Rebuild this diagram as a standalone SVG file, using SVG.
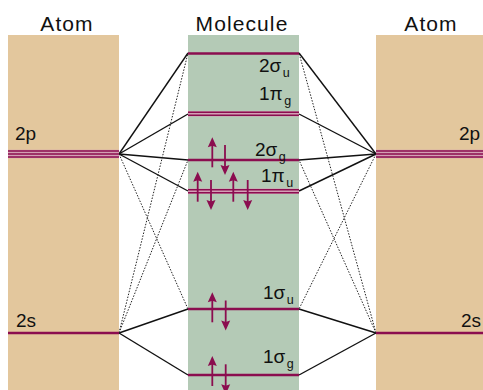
<svg xmlns="http://www.w3.org/2000/svg" xmlns:xlink="http://www.w3.org/1999/xlink" width="483" height="390" viewBox="0 0 483 390">
<style>
.title{font-family:"Liberation Sans",Arial,sans-serif;font-size:21px;letter-spacing:1.1px;fill:#111;text-anchor:middle}
.lab{font-family:"Liberation Sans",Arial,sans-serif;font-size:19px;fill:#111}
.sub{font-size:12.5px}
.atom{fill:#e3c79d}
.mol{fill:#b4cab6}
.lvl{stroke:#8b0d4f;stroke-width:2.6;fill:none}
.thin{stroke:#8b0d4f;stroke-width:1.6;fill:none}
.band{stroke:#d3a0b4;fill:none}
.solid{stroke:#111;stroke-width:1.4;fill:none}
.dot{stroke:#222;stroke-width:1;stroke-dasharray:1.5 1.5;fill:none}
.el{stroke:#8b0d4f;stroke-width:1.8;fill:none}
.head{fill:#8b0d4f}
</style>
<defs>
<g id="up"><line class="el" x1="0" y1="7" x2="0" y2="30"/><path class="head" d="M0,0 L4.5,10 L0,8.5 L-4.5,10 Z"/></g>
<g id="down"><line class="el" x1="0" y1="0" x2="0" y2="23"/><path class="head" d="M0,30 L4.5,20 L0,21.5 L-4.5,20 Z"/></g>
</defs>
<rect class="atom" x="8" y="35" width="111" height="355"/>
<rect class="mol" x="188" y="35" width="111" height="355"/>
<rect class="atom" x="376" y="35" width="107" height="355"/>
<text class="title" x="67" y="30.5">Atom</text>
<text class="title" x="242" y="30.5">Molecule</text>
<text class="title" x="431" y="30.5">Atom</text>
<g id="connectors">
<line class="solid" x1="119" y1="154" x2="188" y2="53"/>
<line class="solid" x1="119" y1="154" x2="188" y2="114"/>
<line class="solid" x1="119" y1="154" x2="188" y2="160"/>
<line class="solid" x1="119" y1="154" x2="188" y2="191"/>
<line class="solid" x1="119" y1="333" x2="188" y2="309"/>
<line class="solid" x1="119" y1="333" x2="188" y2="375"/>
<line class="dot" x1="119" y1="333" x2="188" y2="53"/>
<line class="dot" x1="119" y1="333" x2="188" y2="160"/>
<line class="dot" x1="119" y1="154" x2="188" y2="309"/>
<line class="solid" x1="376" y1="154" x2="299" y2="53"/>
<line class="solid" x1="376" y1="154" x2="299" y2="114"/>
<line class="solid" x1="376" y1="154" x2="299" y2="160"/>
<line class="solid" x1="376" y1="154" x2="299" y2="191"/>
<line class="solid" x1="376" y1="333" x2="299" y2="309"/>
<line class="solid" x1="376" y1="333" x2="299" y2="375"/>
<line class="dot" x1="376" y1="333" x2="299" y2="53"/>
<line class="dot" x1="376" y1="333" x2="299" y2="160"/>
<line class="dot" x1="376" y1="154" x2="299" y2="309"/>
</g>
<g id="atomL-2p">
<line class="band" x1="8" y1="154" x2="119" y2="154" stroke-width="8.6"/>
<line class="thin" x1="8" y1="151" x2="119" y2="151"/>
<line class="thin" x1="8" y1="154" x2="119" y2="154"/>
<line class="thin" x1="8" y1="157" x2="119" y2="157"/>
<text class="lab" x="15" y="140">2p</text>
</g>
<g id="atomL-2s">
<line class="lvl" x1="8" y1="333" x2="119" y2="333"/>
<text class="lab" x="16" y="327">2s</text>
</g>
<g id="atomR-2p">
<line class="band" x1="376" y1="154" x2="483" y2="154" stroke-width="8.6"/>
<line class="thin" x1="376" y1="151" x2="483" y2="151"/>
<line class="thin" x1="376" y1="154" x2="483" y2="154"/>
<line class="thin" x1="376" y1="157" x2="483" y2="157"/>
<text class="lab" x="459" y="140">2p</text>
</g>
<g id="atomR-2s">
<line class="lvl" x1="376" y1="333" x2="483" y2="333"/>
<text class="lab" x="461" y="327">2s</text>
</g>
<g id="mo-2su">
<line class="lvl" x1="188" y1="53.5" x2="299" y2="53.5"/>
<text class="lab" x="259" y="72">2σ<tspan class="sub" dx="1.5" dy="5">u</tspan></text>
</g>
<g id="mo-1pg">
<line class="band" x1="188" y1="113.8" x2="299" y2="113.8" stroke-width="5.6"/>
<line class="thin" x1="188" y1="112.3" x2="299" y2="112.3"/>
<line class="thin" x1="188" y1="115.3" x2="299" y2="115.3"/>
<text class="lab" x="259" y="100">1π<tspan class="sub" dx="1.5" dy="5">g</tspan></text>
</g>
<g id="mo-2sg">
<line class="lvl" x1="188" y1="160" x2="299" y2="160"/>
<text class="lab" x="255" y="156">2σ<tspan class="sub" dx="1.5" dy="5">g</tspan></text>
<use xlink:href="#up" x="212.3" y="137.3"/>
<use xlink:href="#down" x="225" y="145"/>
</g>
<g id="mo-1pu">
<line class="band" x1="188" y1="191.2" x2="299" y2="191.2" stroke-width="5.6"/>
<line class="thin" x1="188" y1="189.7" x2="299" y2="189.7"/>
<line class="thin" x1="188" y1="192.7" x2="299" y2="192.7"/>
<text class="lab" x="261" y="182">1π<tspan class="sub" dx="1.5" dy="5">u</tspan></text>
<use xlink:href="#up" x="197.7" y="171.7"/>
<use xlink:href="#down" x="211" y="180"/>
<use xlink:href="#up" x="233.3" y="171.7"/>
<use xlink:href="#down" x="247.7" y="180"/>
</g>
<g id="mo-1su">
<line class="lvl" x1="188" y1="309" x2="299" y2="309"/>
<text class="lab" x="263" y="299">1σ<tspan class="sub" dx="1.5" dy="5">u</tspan></text>
<use xlink:href="#up" x="212.3" y="292.3"/>
<use xlink:href="#down" x="225.7" y="300.5"/>
</g>
<g id="mo-1sg">
<line class="lvl" x1="188" y1="375" x2="299" y2="375"/>
<text class="lab" x="263" y="363">1σ<tspan class="sub" dx="1.5" dy="5">g</tspan></text>
<use xlink:href="#up" x="212.3" y="356"/>
<use xlink:href="#down" x="225.7" y="364.3"/>
</g>
</svg>
